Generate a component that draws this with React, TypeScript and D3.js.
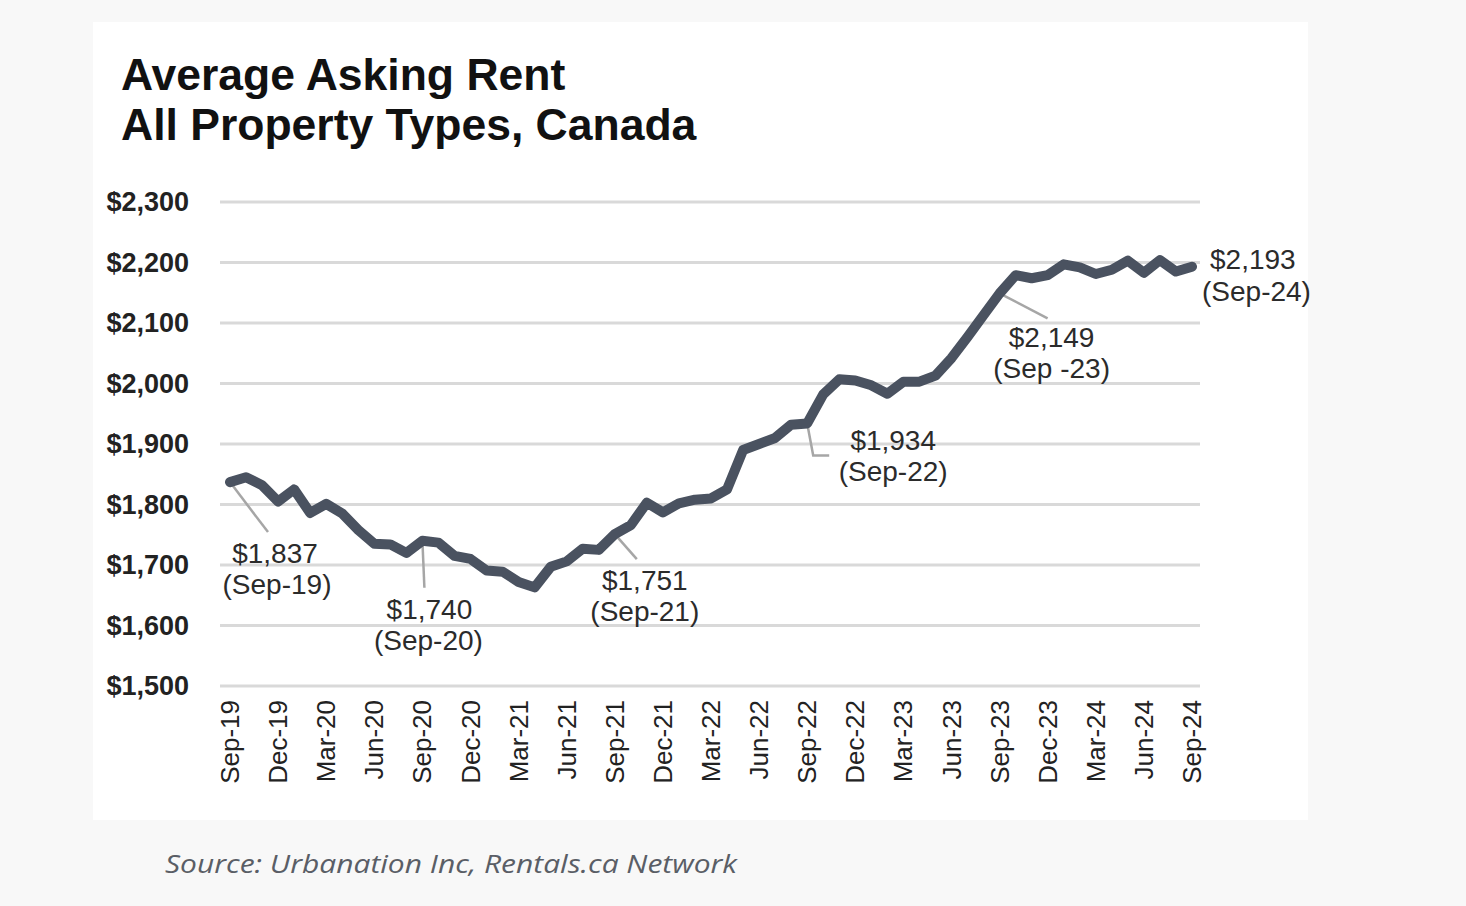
import React from "react";
import * as d3 from "d3";

const months: string[] = [
  "Sep-19","Oct-19","Nov-19","Dec-19","Jan-20","Feb-20","Mar-20","Apr-20","May-20","Jun-20","Jul-20","Aug-20",
  "Sep-20","Oct-20","Nov-20","Dec-20","Jan-21","Feb-21","Mar-21","Apr-21","May-21","Jun-21","Jul-21","Aug-21",
  "Sep-21","Oct-21","Nov-21","Dec-21","Jan-22","Feb-22","Mar-22","Apr-22","May-22","Jun-22","Jul-22","Aug-22",
  "Sep-22","Oct-22","Nov-22","Dec-22","Jan-23","Feb-23","Mar-23","Apr-23","May-23","Jun-23","Jul-23","Aug-23",
  "Sep-23","Oct-23","Nov-23","Dec-23","Jan-24","Feb-24","Mar-24","Apr-24","May-24","Jun-24","Jul-24","Aug-24",
  "Sep-24",
];

const rent: number[] = [
  1837, 1845, 1832, 1805, 1825, 1786, 1801, 1785, 1758, 1735, 1734, 1720,
  1740, 1737, 1715, 1710, 1691, 1689, 1672, 1663, 1697, 1706, 1727, 1725,
  1751, 1766, 1803, 1787, 1802, 1808, 1810, 1825, 1890, 1900, 1910, 1932,
  1934, 1982, 2007, 2005, 1997, 1983, 2003, 2003, 2013, 2042, 2077, 2113,
  2149, 2179, 2174, 2179, 2197, 2192, 2181, 2188, 2203, 2183, 2204, 2185,
  2193,
];

const xTickLabels: string[] = [
  "Sep-19","Dec-19","Mar-20","Jun-20","Sep-20","Dec-20","Mar-21","Jun-21","Sep-21","Dec-21",
  "Mar-22","Jun-22","Sep-22","Dec-22","Mar-23","Jun-23","Sep-23","Dec-23","Mar-24","Jun-24","Sep-24",
];

const yTicks: number[] = [1500, 1600, 1700, 1800, 1900, 2000, 2100, 2200, 2300];

type Ann = { month: string; line1: string; line2: string };
const annotations: Ann[] = [
  { month: "Sep-19", line1: "$1,837", line2: "(Sep-19)" },
  { month: "Sep-20", line1: "$1,740", line2: "(Sep-20)" },
  { month: "Sep-21", line1: "$1,751", line2: "(Sep-21)" },
  { month: "Sep-22", line1: "$1,934", line2: "(Sep-22)" },
  { month: "Sep-23", line1: "$2,149", line2: "(Sep -23)" },
  { month: "Sep-24", line1: "$2,193", line2: "(Sep-24)" },
];

export default function App() {
  const W = 1466, H = 906;
  const x = d3.scalePoint<string>().domain(months).range([230, 1192]);
  const y = d3.scaleLinear().domain([1500, 2300]).range([686, 202]);
  const line = d3
    .line<number>()
    .x((_, i) => x(months[i]) as number)
    .y((d) => y(d));
  const fmt = (v: number) => "$" + d3.format(",")(v);
  const font = "'Liberation Sans', Arial, Helvetica, sans-serif";

  const pt = (m: string) => {
    const i = months.indexOf(m);
    return { px: x(m) as number, py: y(rent[i]) };
  };

  const a0 = pt("Sep-19");
  const a1 = pt("Sep-20");
  const a2 = pt("Sep-21");
  const a3 = pt("Sep-22");
  const a4 = pt("Sep-23");
  const a5 = pt("Sep-24");
  const labelFs = 28;
  const labelColor = "#2b2b2b";
  const leader = "#a6a6a6";

  return (
    <svg
      width={W}
      height={H}
      style={{ position: "absolute", left: 0, top: 0, display: "block" }}
      fontFamily={font}
    >
      <rect x={0} y={0} width={W} height={H} fill="#f8f8f8" />
      <rect x={93} y={22} width={1215} height={798} fill="#ffffff" />

      <text x={121} y={90} fontSize={44.5} fontWeight="bold" fill="#111">
        Average Asking Rent
      </text>
      <text x={121} y={140} fontSize={44.5} fontWeight="bold" fill="#111">
        All Property Types, Canada
      </text>

      {yTicks.map((t) => (
        <g key={t}>
          <line x1={220} x2={1200} y1={y(t)} y2={y(t)} stroke="#d9d9d9" strokeWidth={3} />
          <text
            x={189}
            y={y(t)}
            dy="0.35em"
            textAnchor="end"
            fontSize={27}
            fontWeight="bold"
            fill="#222"
          >
            {fmt(t)}
          </text>
        </g>
      ))}

      {xTickLabels.map((m) => (
        <text
          key={m}
          transform={`translate(${(x(m) as number) + 9},${700}) rotate(-90)`}
          textAnchor="end"
          fontSize={26}
          fill="#222"
        >
          {m}
        </text>
      ))}

      <g stroke={leader} strokeWidth={2.5} fill="none">
        <line x1={a0.px} y1={a0.py} x2={a0.px + 38} y2={a0.py + 50} />
        <line x1={a1.px} y1={a1.py} x2={a1.px + 2} y2={a1.py + 47} />
        <line x1={a2.px} y1={a2.py} x2={a2.px + 22} y2={a2.py + 25} />
        <polyline
          points={`${a3.px},${a3.py} ${a3.px + 6},${a3.py + 32} ${a3.px + 22},${a3.py + 32}`}
        />
        <line x1={a4.px} y1={a4.py} x2={a4.px + 48} y2={a4.py + 25} />
      </g>

      <path
        d={line(rent) ?? ""}
        fill="none"
        stroke="#4a5260"
        strokeWidth={10}
        strokeLinejoin="round"
        strokeLinecap="round"
      />

      <g fontSize={labelFs} fill={labelColor} textAnchor="middle">
        <text x={a0.px + 45} y={a0.py + 81}>{annotations[0].line1}</text>
        <text x={a0.px + 47} y={a0.py + 112}>{annotations[0].line2}</text>
        <text x={a1.px + 7} y={a1.py + 78}>{annotations[1].line1}</text>
        <text x={a1.px + 6} y={a1.py + 109}>{annotations[1].line2}</text>
        <text x={a2.px + 30} y={a2.py + 56}>{annotations[2].line1}</text>
        <text x={a2.px + 30} y={a2.py + 87}>{annotations[2].line2}</text>
        <text x={a3.px + 86} y={a3.py + 27}>{annotations[3].line1}</text>
        <text x={a3.px + 86} y={a3.py + 58}>{annotations[3].line2}</text>
        <text x={a4.px + 52} y={a4.py + 54}>{annotations[4].line1}</text>
        <text x={a4.px + 52} y={a4.py + 85}>{annotations[4].line2}</text>
        <text x={a5.px + 18} y={a5.py + 2} textAnchor="start">{annotations[5].line1}</text>
        <text x={a5.px + 10} y={a5.py + 34} textAnchor="start">{annotations[5].line2}</text>
      </g>

      <text
        x={165}
        y={873}
        fontSize={25}
        fontStyle="italic"
        fill="#5a5e66"
        fontFamily="'Open Sans', Lato, sans-serif"
        textLength={572}
        lengthAdjust="spacingAndGlyphs"
      >
        Source: Urbanation Inc, Rentals.ca Network
      </text>
    </svg>
  );
}
